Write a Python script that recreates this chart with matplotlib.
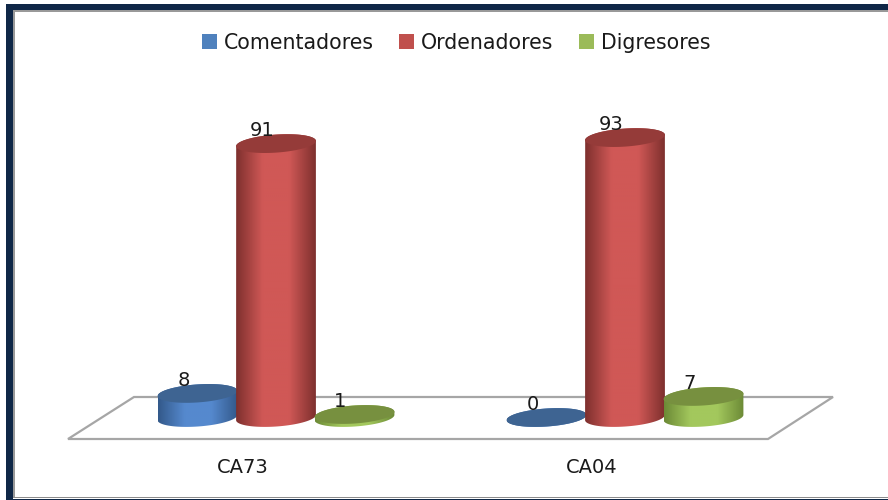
import numpy as np
import matplotlib
matplotlib.use("Agg")
import matplotlib.pyplot as plt
from matplotlib.colors import LinearSegmentedColormap
from matplotlib.patches import Patch, Polygon, Rectangle

# Values
categories = ["CA73", "CA04"]
series_names = ["Comentadores", "Ordenadores", "Digresores"]
comentadores = [8, 0]
ordenadores = [91, 93]
digresores = [1, 7]

legend_colors = ["#4F81BD", "#C0504D", "#9BBB59"]
edge_colors = ["#33598A", "#7E302E", "#6C8A36"]
mid_colors = ["#5589CE", "#D05856", "#A3C85D"]
top_colors = ["#3E6492", "#953B39", "#77903F"]

W, H = 888, 500
PX_PER_CAT = 349.0    # pixels between the two groups
PX_PER_UNIT = 3.01    # pixels per unit of value
X0, Y0 = 276.0, 417.5  # pixel position of first group, value 0
BAR_STEP = 78.5 / PX_PER_CAT
A, B = 40.0, 9.0      # ellipse half axes in pixels
TILT = np.radians(4.0)

fig = plt.figure(figsize=(W / 100, H / 100), dpi=100)
ax = fig.add_axes([0, 0, 1, 1])
ax.set_xlim(-X0 / PX_PER_CAT, (W - X0) / PX_PER_CAT)
ax.set_ylim(-(H - Y0) / PX_PER_UNIT, Y0 / PX_PER_UNIT)
ax.axis("off")


def px(x, y):
    # top-left pixel position to data coords
    return (x - X0) / PX_PER_CAT, (Y0 - y) / PX_PER_UNIT


def ellipse(x, v, t):
    ex = A * np.cos(t) * np.cos(TILT) - B * np.sin(t) * np.sin(TILT)
    ey = A * np.cos(t) * np.sin(TILT) + B * np.sin(t) * np.cos(TILT)
    return np.column_stack([x + ex / PX_PER_CAT, v + ey / PX_PER_UNIT])


def cylinder(x, v, k, z):
    top = ellipse(x, v, np.linspace(-0.05, np.pi + 0.05, 60))
    bottom = ellipse(x, 0, np.linspace(np.pi, 2 * np.pi, 60))
    body = Polygon(np.vstack([top, bottom]), closed=True, fc="none", ec="none",
                   zorder=z, transform=ax.transData)
    ax.add_patch(body)

    cmap = LinearSegmentedColormap.from_list(
        "bar", [edge_colors[k], mid_colors[k], mid_colors[k], edge_colors[k]])
    half = A / PX_PER_CAT
    grad = np.linspace(0, 1, 200)
    im = ax.imshow(grad[None, :], cmap=cmap, aspect="auto", zorder=z,
                   extent=[x - half, x + half, -5, v + 5], vmin=0, vmax=1)
    im.set_clip_path(body)

    cap = ellipse(x, v, np.linspace(0, 2 * np.pi, 120))
    ax.add_patch(Polygon(cap, closed=True, fc=top_colors[k], ec="none", zorder=z + 0.1))


# floor of the 3D chart
floor = [px(68, 439), px(134, 397), px(833, 397), px(768, 439)]
ax.add_patch(Polygon(floor, closed=True, fc="white", ec="#A6A6A6", lw=1.6, zorder=1))

all_series = [comentadores, ordenadores, digresores]
for i in range(len(categories)):
    for k, values in enumerate(all_series):
        x = i + (k - 1) * BAR_STEP
        cylinder(x, values[i], k, 2 + k)
        ax.annotate(str(values[i]), (x, values[i]), xytext=(-14, 13),
                    textcoords="offset pixels", ha="center", va="center",
                    fontsize=14, color="#1A1A1A", zorder=10)
    ax.annotate(categories[i], (i, 0), xytext=(-33, -50), textcoords="offset pixels",
                ha="center", va="center", fontsize=14, color="#1A1A1A", zorder=10)

ax.set_xlim(-X0 / PX_PER_CAT, (W - X0) / PX_PER_CAT)
ax.set_ylim(-(H - Y0) / PX_PER_UNIT, Y0 / PX_PER_UNIT)

handles = [Patch(fc=c, ec="none") for c in legend_colors]
ax.legend(handles, series_names, loc="center", bbox_to_anchor=(456 / W, 1 - 43 / H),
          ncol=3, frameon=False, fontsize=14.8, labelcolor="#1A1A1A",
          handlelength=0.73, handleheight=0.73, handletextpad=0.32, columnspacing=1.25)

# slide frame
frame = [(6, 4, 882, 6, "#0F2747"), (6, 4, 6.5, 496, "#0F2747"),
         (13, 10, 875, 2, "#999999"), (13, 10, 2, 488, "#999999"),
         (13, 497, 875, 1.2, "#8C8C8C"), (6, 498.5, 882, 1.5, "#0F2747")]
for fx, fy, fw, fh, col in frame:
    fig.add_artist(Rectangle((fx / W, 1 - (fy + fh) / H), fw / W, fh / H,
                             transform=fig.transFigure, fc=col, ec="none"))

plt.savefig("out.png", dpi=100)
plt.close()
